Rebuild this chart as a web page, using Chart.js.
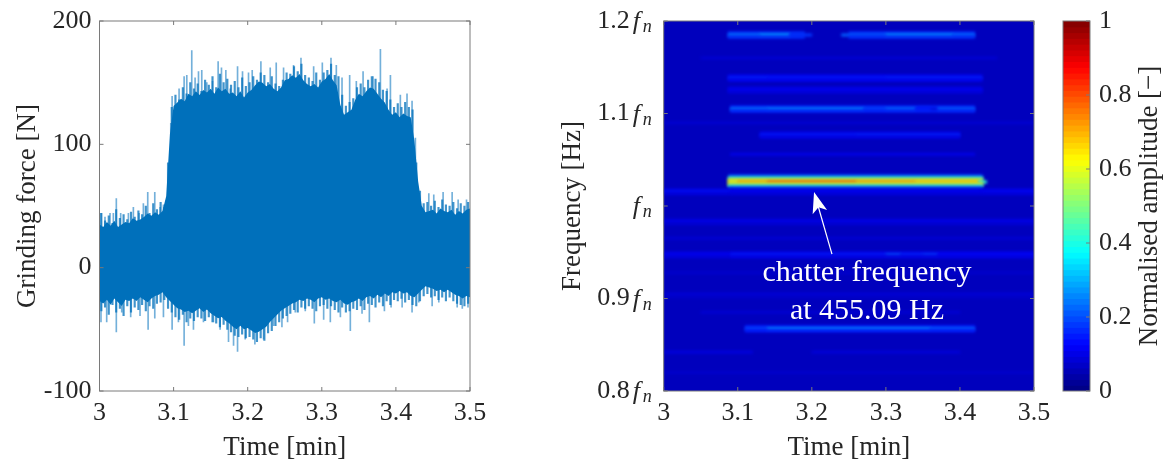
<!DOCTYPE html>
<html>
<head>
<meta charset="utf-8">
<title>Grinding force and chatter spectrogram</title>
<script src="https://cdn.jsdelivr.net/npm/chart.js@4/dist/chart.umd.min.js"></script>
<style>
  html, body { margin: 0; padding: 0; background: #fff; }
  canvas { position: absolute; top: 0; }
</style>
</head>
<body>
<canvas id="force" width="520" height="464" style="left:0"></canvas>
<canvas id="spectrogram" width="520" height="464" style="left:540px"></canvas>
<canvas id="colorbar" width="133" height="464" style="left:1040px"></canvas>
<script>
// axis ticks
const timeTicks = [3, 3.1, 3.2, 3.3, 3.4, 3.5];
const timeTickLabels = ['3', '3.1', '3.2', '3.3', '3.4', '3.5'];
const forceTicks = [-100, 0, 100, 200];
const forceTickLabels = ['-100', '0', '100', '200'];
const freqTicks = [0.8, 0.9, 1, 1.1, 1.2];
const freqTickLabels = ['0.8', '0.9', '', '1.1', '1.2'];
const ampTicks = [0, 0.2, 0.4, 0.6, 0.8, 1];
const ampTickLabels = ['0', '0.2', '0.4', '0.6', '0.8', '1'];

// force signal, solid body of the trace
const coreTimes = [
  3.000, 3.005, 3.010, 3.015, 3.020, 3.025, 3.030, 3.035, 3.040, 3.045,
  3.050, 3.055, 3.060, 3.065, 3.070, 3.075, 3.080, 3.085, 3.090, 3.095,
  3.100, 3.105, 3.110, 3.115, 3.120, 3.125, 3.130, 3.135, 3.140, 3.145,
  3.150, 3.155, 3.160, 3.165, 3.170, 3.175, 3.180, 3.185, 3.190, 3.195,
  3.200, 3.205, 3.210, 3.215, 3.220, 3.225, 3.230, 3.235, 3.240, 3.245,
  3.250, 3.255, 3.260, 3.265, 3.270, 3.275, 3.280, 3.285, 3.290, 3.295,
  3.300, 3.305, 3.310, 3.315, 3.320, 3.325, 3.330, 3.335, 3.340, 3.345,
  3.350, 3.355, 3.360, 3.365, 3.370, 3.375, 3.380, 3.385, 3.390, 3.395,
  3.400, 3.405, 3.410, 3.415, 3.420, 3.425, 3.430, 3.435, 3.440, 3.445,
  3.450, 3.455, 3.460, 3.465, 3.470, 3.475, 3.480, 3.485, 3.490, 3.495,
  3.500];
const coreUpper = [
  35, 33, 37, 34, 38, 33, 35, 37, 36, 40,
  38, 39, 41, 44, 42, 45, 43, 46, 58, 108,
  131, 134, 137, 135, 141, 139, 143, 140, 144, 142,
  145, 141, 146, 143, 145, 141, 142, 139, 143, 138,
  142, 144, 148, 151, 150, 147, 149, 145, 143, 146,
  152, 153, 156, 154, 157, 152, 149, 147, 149, 146,
  151, 153, 157, 152, 148, 132, 124, 126, 128, 136,
  141, 139, 143, 146, 145, 141, 137, 134, 128, 124,
  126, 122, 125, 123, 122, 103, 70, 50, 45, 46,
  47, 44, 48, 46, 45, 47, 43, 46, 44, 47,
  48];
const coreLower = [
  -27, -29, -26, -30, -25, -28, -31, -26, -27, -25,
  -27, -24, -26, -28, -25, -23, -22, -20, -24, -27,
  -30, -33, -34, -36, -35, -37, -35, -33, -36, -34,
  -37, -39, -41, -40, -43, -45, -48, -50, -47, -50,
  -49, -51, -53, -52, -50, -48, -44, -41, -38, -35,
  -33, -31, -29, -28, -26, -27, -25, -26, -28, -25,
  -24, -26, -25, -27, -28, -26, -29, -30, -28, -27,
  -25, -27, -24, -23, -25, -22, -24, -21, -23, -20,
  -21, -19, -21, -20, -23, -24, -21, -18, -15, -16,
  -17, -19, -18, -20, -18, -20, -22, -23, -25, -23,
  -24];

// force signal, dense short peaks on both edges of the body
const grassTimes = [
  3.0025, 3.0075, 3.0125, 3.0175, 3.0225, 3.0275, 3.0325, 3.0375, 3.0425, 3.0475,
  3.0525, 3.0575, 3.0625, 3.0675, 3.0725, 3.0775, 3.0825, 3.0875, 3.0925, 3.0975,
  3.1025, 3.1075, 3.1125, 3.1175, 3.1225, 3.1275, 3.1325, 3.1375, 3.1425, 3.1475,
  3.1525, 3.1575, 3.1625, 3.1675, 3.1725, 3.1775, 3.1825, 3.1875, 3.1925, 3.1975,
  3.2025, 3.2075, 3.2125, 3.2175, 3.2225, 3.2275, 3.2325, 3.2375, 3.2425, 3.2475,
  3.2525, 3.2575, 3.2625, 3.2675, 3.2725, 3.2775, 3.2825, 3.2875, 3.2925, 3.2975,
  3.3025, 3.3075, 3.3125, 3.3175, 3.3225, 3.3275, 3.3325, 3.3375, 3.3425, 3.3475,
  3.3525, 3.3575, 3.3625, 3.3675, 3.3725, 3.3775, 3.3825, 3.3875, 3.3925, 3.3975,
  3.4025, 3.4075, 3.4125, 3.4175, 3.4225, 3.4275, 3.4325, 3.4375, 3.4425, 3.4475,
  3.4525, 3.4575, 3.4625, 3.4675, 3.4725, 3.4775, 3.4825, 3.4875, 3.4925, 3.4975];
const grassUpper = [
  44, 38, 42, 36, 47, 40, 43, 39, 45, 41,
  46, 43, 50, 44, 52, 47, 53, 49, 85, 130,
  140, 136, 146, 141, 150, 145, 149, 143, 152, 148,
  155, 146, 157, 150, 153, 148, 151, 146, 154, 147,
  150, 155, 152, 158, 156, 150, 155, 149, 147, 152,
  158, 157, 163, 159, 165, 156, 154, 151, 158, 152,
  158, 160, 165, 156, 155, 140, 131, 134, 137, 146,
  149, 146, 152, 155, 153, 150, 144, 143, 136, 130,
  133, 130, 134, 130, 128, 85, 62, 52, 53, 50,
  54, 49, 55, 51, 50, 53, 48, 52, 50, 53];
const grassLower = [
  -35, -32, -38, -30, -36, -33, -39, -31, -36, -32,
  -34, -30, -35, -31, -33, -29, -28, -26, -33, -36,
  -40, -42, -38, -44, -41, -43, -40, -41, -43, -40,
  -44, -45, -48, -46, -50, -52, -55, -56, -54, -57,
  -56, -58, -60, -57, -59, -53, -51, -47, -44, -41,
  -39, -37, -34, -36, -32, -33, -31, -33, -35, -31,
  -30, -33, -31, -34, -36, -32, -36, -35, -33, -34,
  -31, -34, -29, -30, -32, -28, -31, -27, -30, -26,
  -27, -25, -28, -26, -30, -31, -27, -23, -21, -24,
  -23, -26, -24, -27, -24, -27, -29, -30, -31, -29];

// force signal, single tall peaks
const upperPeakTimes = [
  3.002, 3.0074, 3.0142, 3.0187, 3.0227, 3.0286, 3.039, 3.0457, 3.0534, 3.0592,
  3.0651, 3.0746, 3.0818, 3.0863, 3.0962, 3.098, 3.1074, 3.1142, 3.1178, 3.1245,
  3.129, 3.1336, 3.138, 3.1448, 3.1525, 3.1601, 3.1646, 3.1705, 3.1764, 3.1863,
  3.193, 3.2011, 3.2061, 3.2178, 3.2304, 3.2385, 3.2484, 3.2619, 3.2719, 3.289,
  3.3007, 3.3124, 3.3196, 3.3273, 3.3376, 3.3466, 3.3557, 3.3692, 3.3791, 3.3881,
  3.3926, 3.406, 3.415, 3.4218, 3.4263, 3.4444, 3.4511, 3.4637, 3.4759, 3.484, 3.4953];
const upperPeakValues = [
  44, 41, 44, 44, 56, 44, 44, 49, 44, 52,
  61, 61, 49, 51, 117, 139, 145, 155, 156, 176,
  154, 159, 160, 150, 151, 167, 162, 160, 145, 163,
  159, 158, 160, 167, 162, 166, 162, 164, 170, 163,
  166, 170, 164, 154, 156, 151, 159, 155, 177, 145,
  156, 140, 141, 135, 105, 60, 59, 61, 61, 55, 55];
const lowerPeakTimes = [
  3.002, 3.0097, 3.0227, 3.03, 3.0421, 3.0547, 3.0656, 3.0746, 3.0863, 3.098,
  3.1065, 3.1142, 3.12, 3.1268, 3.1403, 3.1538, 3.1628, 3.1741, 3.1809, 3.1863,
  3.1966, 3.2097, 3.2214, 3.2349, 3.2462, 3.2538, 3.2642, 3.2777, 3.2899, 3.3025,
  3.3115, 3.3251, 3.3385, 3.3543, 3.3642, 3.3845, 3.3935, 3.4084, 3.4218, 3.4309,
  3.4489, 3.4579, 3.4827, 3.4896, 3.4973];
const lowerPeakValues = [
  -44, -44, -52, -36, -40, -39, -50, -41, -40, -50,
  -44, -63, -47, -50, -44, -44, -50, -60, -63, -68,
  -58, -62, -58, -47, -48, -44, -36, -35, -45, -42,
  -44, -40, -51, -37, -44, -35, -32, -32, -36, -28,
  -31, -28, -32, -33, -32];

// spectrogram, one list per frequency row: [start, end, amplitude]
const heatBackground = 0.06;
const rowFreqs = [
  1.1600,
  1.1871, 1.1849, 1.1827,
  1.1405, 1.1384, 1.1362,
  1.1276, 1.1254, 1.1232,
  1.1070, 1.1049, 1.1027,
  1.0900,
  1.0790, 1.0768, 1.0746,
  1.0560,
  1.0324, 1.0303, 1.0281, 1.0260, 1.0238, 1.0216, 1.0195,
  1.0176, 1.0155, 1.0133,
  0.9851, 0.9830, 0.9808,
  0.9650,
  0.9495, 0.9474, 0.9452,
  0.9280,
  0.9060, 0.9038, 0.9016,
  0.8850,
  0.8695, 0.8674, 0.8652,
  0.8420,
  0.8200];
const rowSegments = [
  [[3.05, 3.45, 0.08]],
  [[3.087, 3.19, 0.17], [3.25, 3.42, 0.17]],
  [[3.087, 3.13, 0.25], [3.13, 3.17, 0.29], [3.17, 3.2, 0.18], [3.24, 3.3, 0.22], [3.3, 3.39, 0.28], [3.39, 3.42, 0.24]],
  [[3.087, 3.19, 0.17], [3.25, 3.42, 0.17]],
  [[3.087, 3.43, 0.11]],
  [[3.087, 3.14, 0.16], [3.14, 3.3, 0.15], [3.3, 3.43, 0.16]],
  [[3.087, 3.43, 0.11]],
  [[3.087, 3.43, 0.09]],
  [[3.087, 3.43, 0.12]],
  [[3.087, 3.43, 0.09]],
  [[3.09, 3.42, 0.16]],
  [[3.09, 3.14, 0.25], [3.14, 3.27, 0.27], [3.27, 3.3, 0.2], [3.3, 3.34, 0.24], [3.34, 3.36, 0.15], [3.37, 3.42, 0.23]],
  [[3.09, 3.42, 0.16]],
  [[3, 3.5, 0.08]],
  [[3.13, 3.4, 0.1]],
  [[3.13, 3.26, 0.15], [3.26, 3.4, 0.16]],
  [[3.13, 3.4, 0.1]],
  [[3.09, 3.42, 0.1]],
  [[3.088, 3.43, 0.2]],
  [[3.087, 3.431, 0.42]],
  [[3.087, 3.431, 0.62]],
  [[3.087, 3.1, 0.6], [3.1, 3.14, 0.69], [3.14, 3.26, 0.76], [3.26, 3.34, 0.7], [3.34, 3.425, 0.66], [3.425, 3.436, 0.42]],
  [[3.087, 3.431, 0.62]],
  [[3.087, 3.431, 0.42]],
  [[3.088, 3.43, 0.2]],
  [[3, 3.09, 0.09], [3.09, 3.43, 0.09], [3.43, 3.5, 0.09]],
  [[3, 3.09, 0.14], [3.09, 3.43, 0.12], [3.43, 3.5, 0.13]],
  [[3, 3.09, 0.09], [3.09, 3.43, 0.09], [3.43, 3.5, 0.09]],
  [[3, 3.5, 0.08]],
  [[3, 3.5, 0.11]],
  [[3, 3.5, 0.08]],
  [[3, 3.5, 0.08]],
  [[3, 3.09, 0.09], [3.09, 3.5, 0.1]],
  [[3, 3.09, 0.12], [3.09, 3.3, 0.15], [3.3, 3.32, 0.2], [3.32, 3.35, 0.16], [3.35, 3.37, 0.18], [3.37, 3.5, 0.13]],
  [[3, 3.09, 0.09], [3.09, 3.5, 0.1]],
  [[3, 3.5, 0.075]],
  [[3, 3.5, 0.07]],
  [[3, 3.5, 0.09]],
  [[3, 3.5, 0.07]],
  [[3.05, 3.4, 0.08]],
  [[3.11, 3.42, 0.15]],
  [[3.11, 3.14, 0.2], [3.14, 3.36, 0.27], [3.36, 3.42, 0.23]],
  [[3.11, 3.42, 0.15]],
  [[3, 3.12, 0.09], [3.2, 3.4, 0.085]],
  [[3, 3.5, 0.075]]
];

// colorbar levels, lower edges of the 64 steps
const colorbarLevels = [
  0, 0.0156, 0.0313, 0.0469, 0.0625, 0.0781, 0.0938, 0.1094,
  0.125, 0.1406, 0.1563, 0.1719, 0.1875, 0.2031, 0.2188, 0.2344,
  0.25, 0.2656, 0.2813, 0.2969, 0.3125, 0.3281, 0.3438, 0.3594,
  0.375, 0.3906, 0.4063, 0.4219, 0.4375, 0.4531, 0.4688, 0.4844,
  0.5, 0.5156, 0.5313, 0.5469, 0.5625, 0.5781, 0.5938, 0.6094,
  0.625, 0.6406, 0.6563, 0.6719, 0.6875, 0.7031, 0.7188, 0.7344,
  0.75, 0.7656, 0.7813, 0.7969, 0.8125, 0.8281, 0.8438, 0.8594,
  0.875, 0.8906, 0.9063, 0.9219, 0.9375, 0.9531, 0.9688, 0.9844];
const colorbarStep = 0.0156;

// chatter annotation, in time / frequency units
const arrowTail = [3.2272, 0.948];
const arrowTip = [3.203, 1.0152];
const chatterLines = [
  { text: 'chatter frequency', t: 3.2745, f: 0.9275 },
  { text: 'at 455.09 Hz', t: 3.2745, f: 0.8865 }
];

const SERIF = '"Liberation Serif", serif';
const TEXT_COLOR = '#262626';
const FORCE_BLUE = '#0070bb';
const TICK_FONT = { family: SERIF, size: 26 };
const TITLE_FONT = { family: SERIF, size: 27 };

Chart.defaults.color = TEXT_COLOR;

function jet(v) {
  const c = x => Math.round(255 * Math.max(0, Math.min(1, x)));
  return `rgb(${c(1.5 - Math.abs(4 * v - 3))},${c(1.5 - Math.abs(4 * v - 2))},${c(1.5 - Math.abs(4 * v - 1))})`;
}

function timeAxis() {
  return {
    type: 'linear',
    position: 'bottom',
    min: 3,
    max: 3.5,
    offset: false,
    afterBuildTicks: s => { s.ticks = timeTicks.map(value => ({ value })); },
    afterFit: s => { s.height = 73; },
    grid: { display: false, drawTicks: false },
    border: { display: false },
    ticks: {
      font: TICK_FONT, padding: 7, maxRotation: 0, autoSkip: false,
      callback: (v, i) => timeTickLabels[i]
    },
    title: { display: true, text: 'Time [min]', font: TITLE_FONT, padding: { top: 0, bottom: 0 } }
  };
}

// tick padding also pads the plot top, so the label gap comes from an invisible tick length
function valueAxis(min, max, ticks, labels, width, gap, title, titlePad) {
  return {
    type: 'linear',
    min: min,
    max: max,
    offset: false,
    afterBuildTicks: s => { s.ticks = ticks.map(value => ({ value })); },
    afterFit: s => { s.width = width; },
    grid: { display: true, drawOnChartArea: false, drawTicks: true, tickLength: gap, tickColor: 'transparent', color: 'transparent' },
    border: { display: false },
    ticks: { font: TICK_FONT, padding: 0, autoSkip: false, callback: (v, i) => labels[i] },
    title: title ? { display: true, text: title, font: TITLE_FONT, padding: { top: titlePad, bottom: 0 } } : { display: false }
  };
}

// box around the axes with small inward ticks, like the original figure
const frame = {
  id: 'frame',
  afterDraw(chart) {
    const { ctx, chartArea: a, scales } = chart;
    ctx.save();
    ctx.strokeStyle = '#7a7a7a';
    ctx.lineWidth = 1;
    ctx.strokeRect(a.left, a.top, a.right - a.left, a.bottom - a.top);
    ctx.beginPath();
    if (scales.x.options.display) {
      scales.x.ticks.forEach(t => {
        const x = scales.x.getPixelForValue(t.value);
        ctx.moveTo(x, a.top); ctx.lineTo(x, a.top + 4);
        ctx.moveTo(x, a.bottom); ctx.lineTo(x, a.bottom - 4);
      });
    }
    scales.y.ticks.forEach(t => {
      const y = scales.y.getPixelForValue(t.value);
      if (scales.x.options.display) { ctx.moveTo(a.left, y); ctx.lineTo(a.left + 4, y); }
      ctx.moveTo(a.right, y); ctx.lineTo(a.right - 4, y);
    });
    ctx.stroke();
    ctx.restore();
  }
};

new Chart(document.getElementById('force'), {
  type: 'bar',
  data: {
    datasets: [
      {
        type: 'line',
        data: coreTimes.map((t, i) => ({ x: t, y: coreUpper[i] })),
        borderWidth: 0, pointRadius: 0, tension: 0,
        backgroundColor: FORCE_BLUE, fill: '+1'
      },
      {
        type: 'line',
        data: coreTimes.map((t, i) => ({ x: t, y: coreLower[i] })),
        borderWidth: 0, pointRadius: 0, tension: 0, fill: false
      },
      {
        data: grassTimes.map((t, i) => ({ x: t, y: [0, grassUpper[i]] })),
        backgroundColor: 'rgba(0,112,187,0.75)', barThickness: 1.5, grouped: false
      },
      {
        data: grassTimes.map((t, i) => ({ x: t, y: [0, grassLower[i]] })),
        backgroundColor: 'rgba(0,112,187,0.75)', barThickness: 1.5, grouped: false
      },
      {
        data: upperPeakTimes.map((t, i) => ({ x: t, y: [0, upperPeakValues[i]] })),
        backgroundColor: 'rgba(0,112,187,0.55)', barThickness: 1, grouped: false
      },
      {
        data: lowerPeakTimes.map((t, i) => ({ x: t, y: [0, lowerPeakValues[i]] })),
        backgroundColor: 'rgba(0,112,187,0.55)', barThickness: 1, grouped: false
      }
    ]
  },
  options: {
    responsive: false,
    animation: false,
    devicePixelRatio: 1,
    layout: { padding: { top: 21, right: 50, bottom: 0, left: 0 } },
    plugins: { legend: { display: false }, tooltip: { enabled: false } },
    scales: {
      x: timeAxis(),
      y: valueAxis(-100, 200, forceTicks, forceTickLabels, 99.5, 8, 'Grinding force [N]', 12)
    }
  },
  plugins: [frame]
});

// background colour and slight blur for the spectrogram cells
const heatLayer = {
  id: 'heatLayer',
  beforeDatasetsDraw(chart) {
    const { ctx, chartArea: a } = chart;
    ctx.save();
    ctx.fillStyle = jet(heatBackground);
    ctx.fillRect(a.left, a.top, a.right - a.left, a.bottom - a.top);
    ctx.filter = 'blur(1.6px)';
  },
  afterDatasetsDraw(chart) {
    chart.ctx.restore();
  }
};

// f_n part of the frequency tick labels, the arrow and the white text
const heatNotes = {
  id: 'heatNotes',
  afterDraw(chart) {
    const { ctx, chartArea: a, scales: { x, y } } = chart;
    ctx.save();
    ctx.fillStyle = TEXT_COLOR;
    ctx.textBaseline = 'alphabetic';
    ctx.textAlign = 'left';
    freqTicks.forEach(v => {
      const py = y.getPixelForValue(v);
      ctx.font = 'italic 26px ' + SERIF;
      ctx.fillText('f', a.left - 31, py + 8);
      ctx.font = 'italic 18px ' + SERIF;
      ctx.fillText('n', a.left - 21, py + 11);
    });

    const tx = x.getPixelForValue(arrowTail[0]), ty = y.getPixelForValue(arrowTail[1]);
    const hx = x.getPixelForValue(arrowTip[0]), hy = y.getPixelForValue(arrowTip[1]);
    const len = Math.hypot(hx - tx, hy - ty);
    const ux = (hx - tx) / len, uy = (hy - ty) / len;
    ctx.strokeStyle = '#fff';
    ctx.fillStyle = '#fff';
    ctx.lineWidth = 1.2;
    ctx.beginPath();
    ctx.moveTo(tx, ty);
    ctx.lineTo(hx - ux * 12, hy - uy * 12);
    ctx.stroke();
    ctx.beginPath();
    ctx.moveTo(hx, hy);
    ctx.lineTo(hx - ux * 21 - uy * 7.5, hy - uy * 21 + ux * 7.5);
    ctx.lineTo(hx - ux * 16, hy - uy * 16);
    ctx.lineTo(hx - ux * 21 + uy * 7.5, hy - uy * 21 - ux * 7.5);
    ctx.closePath();
    ctx.fill();

    ctx.font = '30px ' + SERIF;
    ctx.textAlign = 'center';
    ctx.textBaseline = 'middle';
    chatterLines.forEach(l => {
      ctx.fillText(l.text, x.getPixelForValue(l.t), y.getPixelForValue(l.f));
    });
    ctx.restore();
  }
};

const heatCells = [];
rowFreqs.forEach((f, i) => {
  rowSegments[i].forEach(seg => {
    heatCells.push({ y: f, x: [seg[0], seg[1]], amp: seg[2] });
  });
});

new Chart(document.getElementById('spectrogram'), {
  type: 'bar',
  data: {
    datasets: [{
      data: heatCells,
      backgroundColor: heatCells.map(c => jet(c.amp)),
      barThickness: 2.4,
      grouped: false
    }]
  },
  options: {
    indexAxis: 'y',
    responsive: false,
    animation: false,
    devicePixelRatio: 1,
    layout: { padding: { top: 21, right: 26, bottom: 0, left: 0 } },
    plugins: { legend: { display: false }, tooltip: { enabled: false } },
    scales: {
      x: timeAxis(),
      y: valueAxis(0.8, 1.2, freqTicks, freqTickLabels, 123.7, 34, 'Frequency [Hz]', 17)
    }
  },
  plugins: [heatLayer, frame, heatNotes]
});

// colorbar title reads upwards, the axis title option only rotates it downwards
const colorbarTitle = {
  id: 'colorbarTitle',
  afterDraw(chart) {
    const { ctx, chartArea: a } = chart;
    ctx.save();
    ctx.translate(a.right + 60, (a.top + a.bottom) / 2);
    ctx.rotate(-Math.PI / 2);
    ctx.font = '27px ' + SERIF;
    ctx.fillStyle = TEXT_COLOR;
    ctx.textAlign = 'center';
    ctx.textBaseline = 'middle';
    ctx.fillText('Normalised amplitude [\u2212]', 0, 0);
    ctx.restore();
  }
};

new Chart(document.getElementById('colorbar'), {
  type: 'bar',
  data: {
    datasets: [{
      data: colorbarLevels.map(v => ({ y: v + colorbarStep / 2, x: [0, 1] })),
      backgroundColor: colorbarLevels.map(v => jet(v + colorbarStep / 2)),
      barThickness: 6.2,
      grouped: false
    }]
  },
  options: {
    indexAxis: 'y',
    responsive: false,
    animation: false,
    devicePixelRatio: 1,
    layout: { padding: { top: 21, right: 0, bottom: 73, left: 23 } },
    plugins: { legend: { display: false }, tooltip: { enabled: false } },
    scales: {
      x: { type: 'linear', min: 0, max: 1, display: false },
      y: Object.assign(valueAxis(0, 1, ampTicks, ampTickLabels, 83, 9), { position: 'right' })
    }
  },
  plugins: [frame, colorbarTitle]
});
</script>
</body>
</html>
